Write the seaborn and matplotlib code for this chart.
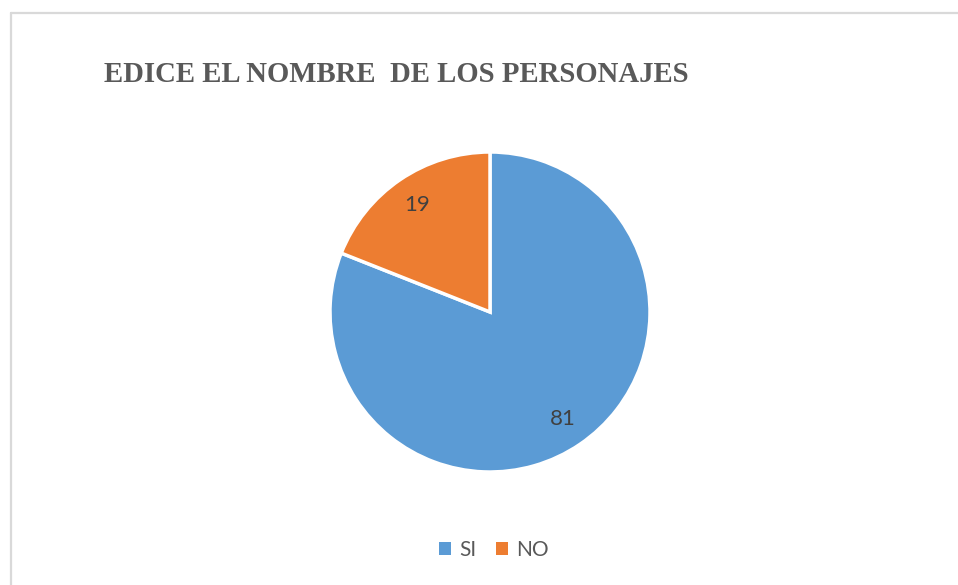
import matplotlib
matplotlib.use("Agg")
import matplotlib.pyplot as plt
import seaborn as sns
from matplotlib.lines import Line2D
from matplotlib.patches import Patch

categories = ["SI", "NO"]
values = [81, 19]
colors = ["#5B9BD5", "#ED7D31"]
title = "EDICE EL NOMBRE  DE LOS PERSONAJES"

sns.set_theme(style="white")
W, H = 958, 585
fig = plt.figure(figsize=(W / 100, H / 100), dpi=100)
fig.patch.set_facecolor("white")

# chart border (top and left visible)
fig.add_artist(Line2D([10.5 / W, 10.5 / W], [0, 1 - 13 / H], transform=fig.transFigure,
                      color="#d9d9d9", lw=1.6))
fig.add_artist(Line2D([10.5 / W, 1], [1 - 13 / H, 1 - 13 / H], transform=fig.transFigure,
                      color="#d9d9d9", lw=1.6))

cx, cy, r = 490, 312, 160
ax = fig.add_axes([(cx - r) / W, (H - cy - r) / H, 2 * r / W, 2 * r / H])
wedges, texts = ax.pie(values, colors=colors, startangle=90, counterclock=False,
                       labels=[str(v) for v in values], labeldistance=0.81,
                       wedgeprops=dict(edgecolor="white", linewidth=2.5),
                       textprops=dict(fontsize=16, color="#404040", family="Lato"))
for t in texts:
    t.set_ha("center")
    t.set_va("center")
ax.set_xlim(-1, 1)
ax.set_ylim(-1, 1)
ax.set_aspect("equal")
ax.axis("off")

fig.text(104 / W, 1 - 82 / H, title, ha="left", va="baseline",
         fontsize=20.7, fontweight="bold", color="#595959", family="Liberation Serif")

handles = [Patch(facecolor=c, edgecolor="none") for c in colors]
fig.legend(handles, categories, loc="center", bbox_to_anchor=(494 / W, 1 - 550 / H),
           ncol=2, frameon=False, handlelength=0.6, handleheight=0.6,
           handletextpad=0.4, columnspacing=0.9,
           prop=dict(family="Lato", size=15), labelcolor="#595959")

fig.savefig("out.png", dpi=100, facecolor="white")
